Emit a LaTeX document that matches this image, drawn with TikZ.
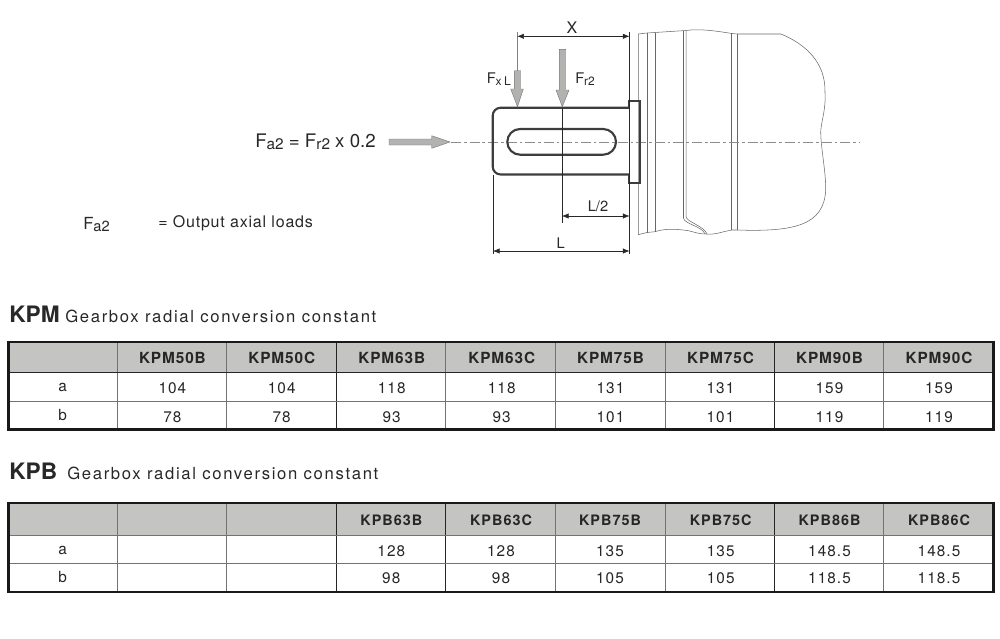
\documentclass[tikz,border=0pt]{standalone}
\usepackage{fontspec}
\setmainfont{TeX Gyre Heros}
\usetikzlibrary{arrows.meta}
\definecolor{hdr}{RGB}{196,196,194}
\definecolor{arr}{RGB}{178,178,176}
\definecolor{ink}{RGB}{40,40,40}
\newcommand{\lowsub}[2]{\raisebox{-#1pt}{#2}}
\tikzset{
 px/.style={x=0.75pt,y=-0.75pt},
 thin line/.style={draw=ink,line width=0.45pt},
 part/.style={draw=ink!70,line width=0.4pt},
 dim/.style={draw=ink,line width=0.4pt,{Latex[length=5pt,width=4pt]}-{Latex[length=5pt,width=4pt]}},
 heavy/.style={draw=ink!90,line width=1.6pt},
 center line/.style={draw=black!45,line width=0.7pt,dash pattern=on 7.5pt off 2.2pt on 2pt off 2.2pt},
 force/.style={fill=arr,draw=black!55,line width=0.3pt},
 lab/.style={inner sep=0pt,text=ink,font=\fontsize{11}{13}\selectfont},
 cell/.style={inner sep=0pt,text=black!85,font=\fontsize{11.5}{13}\selectfont\addfontfeatures{LetterSpace=7}},
 hcell/.style={inner sep=0pt,text=black!85,font=\fontsize{11.5}{13}\bfseries\selectfont\addfontfeatures{LetterSpace=6}},
 hcellb/.style={inner sep=0pt,text=black!85,font=\fontsize{10.8}{13}\bfseries\selectfont\addfontfeatures{LetterSpace=7}},
 grid/.style={draw=black!55,line width=0.6pt},
 griddark/.style={draw=black!85,line width=0.6pt},
 outer/.style={draw=black!90,line width=1.7pt},
 brand/.style={inner sep=0pt,anchor=base west,text=ink,font=\fontsize{17}{19}\bfseries\selectfont},
 caption/.style={inner sep=0pt,anchor=base west,text=ink,font=\fontsize{12.5}{15}\selectfont\addfontfeatures{LetterSpace=10}},
}
\begin{document}
\begin{tikzpicture}[px]
\useasboundingbox (0,0) rectangle (1000,639);
% gearbox outline
\draw[part] (638.3,34) -- (647,33) -- (686,30.5) .. controls (700,28.5) and (716,31) .. (732,33.5) -- (737,34) -- (781,34)
  .. controls (805,44) and (826,62) .. (825,93) .. controls (826,110) and (821,122) .. (820.7,132)
  .. controls (821,150) and (826,172) .. (825.7,190) .. controls (824,225) and (795,232) .. (737,230)
  -- (732,230) .. controls (720,232) and (716,235) .. (706,234) .. controls (696,234) and (690,230) .. (683,230)
  .. controls (670,228.5) and (662,229.5) .. (655,231.7) -- (647,232.5) -- (638.3,234.7) -- cycle;
\draw[part] (647,33) -- (647,232.5);
\draw[part] (655.3,32.5) -- (655.3,231.7);
\draw[part] (683.5,31) -- (683.5,218) .. controls (684,224) and (702,226) .. (705,234);
\draw[part] (686.2,31) -- (686.2,217) .. controls (687,222) and (704,226) .. (707,234);
\draw[part] (731.7,33) -- (731.7,230);
\draw[part] (737,34) -- (737,230);
% center line
\coordinate (cl0) at (451,142);
\coordinate (cl1) at (859,142);
\draw[center line] (cl0) -- (cl1);
% shaft
\draw[heavy,rounded corners=6pt] (629.3,107.7) -- (492.7,107.7) -- (492.7,174.5) -- (629.3,174.5);
\draw[heavy] (629.3,107.7) -- (629.3,100.7) -- (640,100.7) -- (640,183) -- (629.3,183) -- (629.3,174.5);
\draw[heavy,rounded corners=9.6pt] (507.3,129) rectangle (616,154.7);
% dimension lines
\draw[thin line] (629.5,31.7) -- (629.5,254);
\draw[thin line] (493,175) -- (493,254);
\draw[thin line] (562,108) -- (562,222.7);
\draw[thin line,draw=black!50] (517.3,31.7) -- (517.3,71);
\draw[dim] (517.3,36.3) -- (629.5,36.3);
\draw[dim] (562,216) -- (629.5,216);
\draw[dim] (493,251) -- (629.5,251);
% force arrows
\draw[force] (514.3,70.7) -- (520.7,70.7) -- (520.7,89) -- (523.3,89) -- (517.5,106.7) -- (510.7,89) -- (514.3,89) -- cycle;
\draw[force] (559.3,49.3) -- (565.7,49.3) -- (565.7,90) -- (569,90) -- (562.3,106.7) -- (556,90) -- (559.3,90) -- cycle;
\draw[force] (389,139) -- (431.7,139) -- (431.7,135.7) -- (450,142) -- (431.7,148.3) -- (431.7,145) -- (389,145) -- cycle;
% labels
\node[lab,font=\fontsize{12}{14}\selectfont] (xl) at (572,28) {X};
\node[lab] (l2) at (598,206.5) {L/2};
\node[lab] (ll) at (560.7,243.5) {L};
\node[lab,anchor=west] (fxl) at (486.5,79) {F\lowsub{1}{\fontsize{9}{10}\selectfont x}\,\lowsub{1}{\fontsize{9}{10}\selectfont L}};
\node[lab,anchor=west] (fr2) at (575,79) {F\lowsub{1}{\fontsize{9}{10}\selectfont r2}};
\node[inner sep=0pt,anchor=west,text=ink,font=\fontsize{14}{16}\selectfont] (eq) at (255,142) {F\lowsub{1.5}{\fontsize{11.5}{13}\selectfont a2} = F\lowsub{1.5}{\fontsize{11.5}{13}\selectfont r2} x 0.2};
\node[inner sep=0pt,anchor=west,text=ink,font=\fontsize{12.5}{15}\selectfont] (fa) at (83,225) {F\lowsub{1.5}{\fontsize{11}{13}\selectfont a2}};
\node[inner sep=0pt,anchor=west,text=ink,font=\fontsize{12}{14}\selectfont\addfontfeatures{LetterSpace=5}] (oal) at (158,223.5) {= Output axial loads};
% titles
\node[brand] (t1) at (9,322.8) {KPM};
\node[caption] (c1) at (65,322.8) {Gearbox radial conversion constant};
\node[brand] (t2) at (9,479.8) {KPB};
\node[caption] (c2) at (67,479.8) {Gearbox radial conversion constant};
% table 1
\fill[hdr] (8.5,341.7) rectangle (993.5,372.7);
\foreach \x in {117.3,226.7,445.5,555.3,665,883.7}{\draw[grid] (\x,341.7) -- (\x,429.5);}
\foreach \x in {336,774.3}{\draw[griddark] (\x,341.7) -- (\x,429.5);}
\draw[griddark] (8.5,372.7) -- (993.5,372.7);
\draw[grid] (8.5,401) -- (993.5,401);
\draw[outer] (8.5,341.7) rectangle (993.5,429.5);
\node[cell] (a1) at (62.7,387.5) {a};
\node[cell] (b1) at (62.7,415) {b};
\foreach \cx/\n/\a/\b in {172.4/KPM50B/104/78,281.7/KPM50C/104/78,391.7/KPM63B/118/93,501.7/KPM63C/118/93,610.5/KPM75B/131/101,720.5/KPM75C/131/101,829.5/KPM90B/159/119,939/KPM90C/159/119}{
 \node[hcell] at (\cx,357.5) {\n};
 \node[cell] at (\cx,388) {\a};
 \node[cell] at (\cx,416.7) {\b};
}
% table 2
\fill[hdr] (8.5,503.3) rectangle (993.5,535.3);
\foreach \x in {117.3,226.7,555.7,665,883.3}{\draw[grid] (\x,503.3) -- (\x,592);}
\foreach \x in {336.3,445.3,774.3}{\draw[griddark] (\x,503.3) -- (\x,592);}
\draw[grid] (8.5,535.3) -- (993.5,535.3);
\draw[grid] (8.5,563.3) -- (993.5,563.3);
\draw[outer] (8.5,503.3) rectangle (993.5,592);
\node[cell] (a2) at (62.7,550) {a};
\node[cell] (b2) at (62.7,577.5) {b};
\foreach \cx/\n/\a/\b in {391.3/KPB63B/128/98,501/KPB63C/128/98,610/KPB75B/135/105,720.7/KPB75C/135/105,829.5/KPB86B/148.5/118.5,939/KPB86C/148.5/118.5}{
 \node[hcellb] at (\cx,520) {\n};
 \node[cell] at (\cx,550.7) {\a};
 \node[cell] at (\cx,578.5) {\b};
}
\end{tikzpicture}
\end{document}
